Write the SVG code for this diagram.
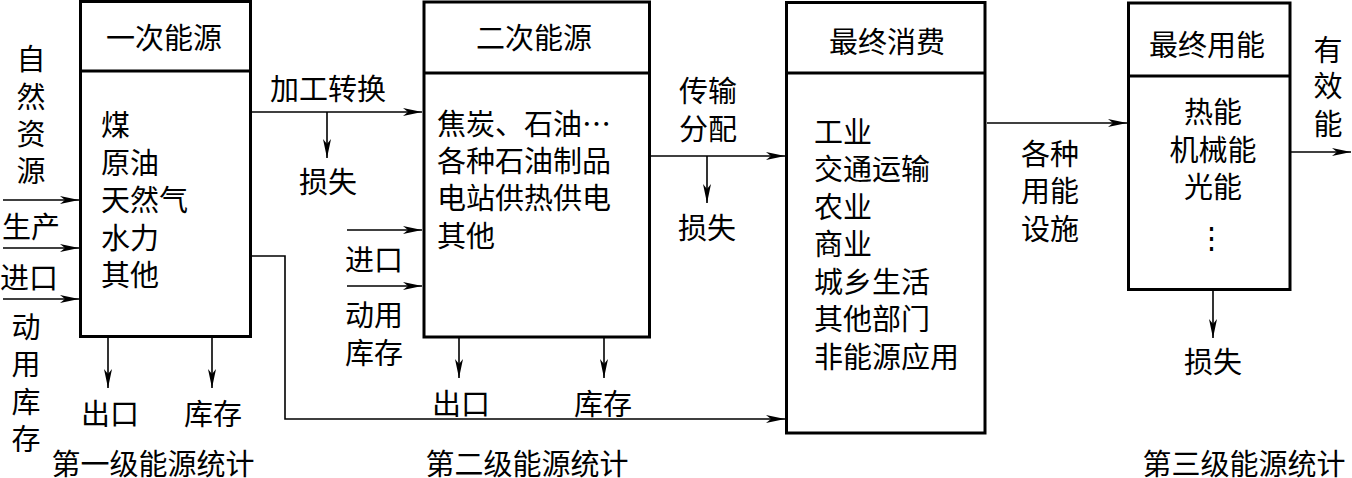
<svg xmlns="http://www.w3.org/2000/svg" width="1352" height="478" viewBox="0 0 1352 478">
<style>
.box{fill:#fff;stroke:#000;stroke-width:3}
.div{stroke:#000;stroke-width:3}
.ln{fill:none;stroke:#000;stroke-width:1.6}
.t{font-family:"Noto Sans CJK SC","Noto Sans CJK JP",sans-serif;font-size:29px;fill:#000;dominant-baseline:central}
.m{text-anchor:middle}
</style>
<defs>
<marker id="ah" markerUnits="userSpaceOnUse" markerWidth="20" markerHeight="10" viewBox="0 0 20 10" refX="19" refY="5" orient="auto">
<path d="M0,1 L19,5 L0,9 L5,5 z" fill="#000"/>
</marker>
</defs>
<rect width="1352" height="478" fill="#fff"/>

<g id="connectors">
<line class="ln" x1="3" y1="200" x2="79" y2="200" marker-end="url(#ah)"/>
<line class="ln" x1="3" y1="248" x2="79" y2="248" marker-end="url(#ah)"/>
<line class="ln" x1="3" y1="299" x2="79" y2="299" marker-end="url(#ah)"/>
<line class="ln" x1="108" y1="338" x2="108" y2="388" marker-end="url(#ah)"/>
<line class="ln" x1="212" y1="338" x2="212" y2="388" marker-end="url(#ah)"/>
<line class="ln" x1="252" y1="112" x2="422" y2="112" marker-end="url(#ah)"/>
<line class="ln" x1="327" y1="112" x2="327" y2="158" marker-end="url(#ah)"/>
<line class="ln" x1="347" y1="230" x2="422" y2="230" marker-end="url(#ah)"/>
<line class="ln" x1="347" y1="286" x2="422" y2="286" marker-end="url(#ah)"/>
<line class="ln" x1="459" y1="338" x2="459" y2="378" marker-end="url(#ah)"/>
<line class="ln" x1="604" y1="338" x2="604" y2="378" marker-end="url(#ah)"/>
<polyline class="ln" points="252,256 285,256 285,419 785,419" marker-end="url(#ah)"/>
<line class="ln" x1="651" y1="156" x2="785" y2="156" marker-end="url(#ah)"/>
<line class="ln" x1="707" y1="156" x2="707" y2="203" marker-end="url(#ah)"/>
<line class="ln" x1="987" y1="123" x2="1127" y2="123" marker-end="url(#ah)"/>
<line class="ln" x1="1291" y1="152" x2="1351" y2="152" marker-end="url(#ah)"/>
<line class="ln" x1="1213" y1="291" x2="1213" y2="338" marker-end="url(#ah)"/>
</g>

<g id="node-primary">
<rect class="box" x="80.5" y="1.5" width="170" height="335"/>
<line class="div" x1="80.5" y1="71" x2="250.5" y2="71"/>
<text class="t m" x="164" y="36">一次能源</text>
<text class="t" x="101" y="123">煤</text>
<text class="t" x="101" y="160.5">原油</text>
<text class="t" x="101" y="198">天然气</text>
<text class="t" x="101" y="235.5">水力</text>
<text class="t" x="101" y="273">其他</text>
</g>

<g id="node-secondary">
<rect class="box" x="424" y="2" width="225.5" height="335"/>
<line class="div" x1="424" y1="73" x2="649.5" y2="73"/>
<text class="t m" x="534" y="36">二次能源</text>
<text class="t" x="437" y="122">焦炭、石油…</text>
<text class="t" x="437" y="159">各种石油制品</text>
<text class="t" x="437" y="196">电站供热供电</text>
<text class="t" x="437" y="234">其他</text>
</g>

<g id="node-final-consumption">
<rect class="box" x="786.5" y="2.5" width="198.5" height="430.5"/>
<line class="div" x1="786.5" y1="73" x2="985" y2="73"/>
<text class="t m" x="887" y="40">最终消费</text>
<text class="t" x="814" y="130">工业</text>
<text class="t" x="814" y="167">交通运输</text>
<text class="t" x="814" y="204.5">农业</text>
<text class="t" x="814" y="242">商业</text>
<text class="t" x="814" y="279.5">城乡生活</text>
<text class="t" x="814" y="317">其他部门</text>
<text class="t" x="814" y="354.5">非能源应用</text>
</g>

<g id="node-final-use">
<rect class="box" x="1128.5" y="3" width="161.5" height="286.5"/>
<line class="div" x1="1128.5" y1="76" x2="1290" y2="76"/>
<text class="t m" x="1207" y="43">最终用能</text>
<text class="t m" x="1213" y="110">热能</text>
<text class="t m" x="1213" y="148">机械能</text>
<text class="t m" x="1213" y="185">光能</text>
<text class="t m" x="1211" y="235">⋮</text>
</g>

<g id="labels">
<text class="t m" x="31" y="57">自<tspan x="31" y="95">然</tspan><tspan x="31" y="132">资</tspan><tspan x="31" y="169">源</tspan></text>
<text class="t m" x="31" y="225">生产</text>
<text class="t m" x="29" y="276">进口</text>
<text class="t m" x="26" y="325">动<tspan x="26" y="362">用</tspan><tspan x="26" y="400">库</tspan><tspan x="26" y="437">存</tspan></text>
<text class="t m" x="110" y="412">出口</text>
<text class="t m" x="213" y="412">库存</text>
<text class="t m" x="153" y="462">第一级能源统计</text>

<text class="t m" x="328" y="87">加工转换</text>
<text class="t m" x="328" y="180">损失</text>
<text class="t m" x="374" y="258">进口</text>
<text class="t m" x="374" y="313">动用<tspan x="374" y="351">库存</tspan></text>
<text class="t m" x="461" y="402">出口</text>
<text class="t m" x="603" y="402">库存</text>
<text class="t m" x="527" y="462">第二级能源统计</text>

<text class="t m" x="708" y="89">传输<tspan x="708" y="127">分配</tspan></text>
<text class="t m" x="707" y="226">损失</text>

<text class="t m" x="1050" y="152">各种<tspan x="1050" y="189">用能</tspan><tspan x="1050" y="227">设施</tspan></text>
<text class="t m" x="1328" y="48">有<tspan x="1328" y="84">效</tspan><tspan x="1328" y="122">能</tspan></text>
<text class="t m" x="1213" y="360">损失</text>
<text class="t m" x="1244" y="462">第三级能源统计</text>
</g>
</svg>
